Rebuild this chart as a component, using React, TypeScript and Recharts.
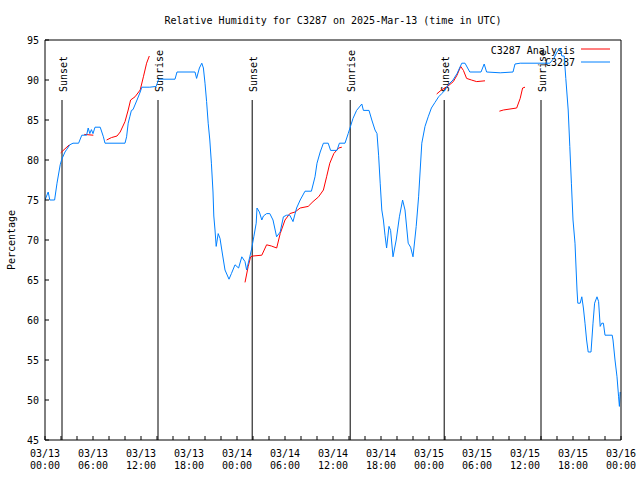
import { LineChart, Line, XAxis, YAxis, ReferenceLine } from 'recharts'

// hours since 2025-03-13 00:00 UTC
const obsHours = [
  0, 0.4, 0.6, 1.2, 1.5, 1.9, 2.1, 2.5, 2.7, 3.1, 3.5, 4.2, 4.6, 5.2, 5.4, 5.6, 5.8, 6.0, 6.25, 6.9,
  7.3, 7.5, 10.0, 10.2, 10.4, 10.6, 10.8, 11.0, 11.5, 11.9, 12.1, 13.1, 13.9, 14.2, 16.25, 16.5, 18.75, 18.95, 19.3, 19.6,
  19.8, 20.0, 20.2, 20.4, 20.6, 20.8, 21.0, 21.1, 21.25, 21.4, 21.65, 21.875, 22.1, 22.3, 22.5, 23.0, 23.3, 23.75, 24.2, 24.6,
  25.0, 25.2, 25.6, 25.8, 26.1, 26.4, 26.5, 26.8, 27.1, 27.3, 27.7, 28.1, 28.5, 28.95, 29.4, 29.8, 30.2, 30.6, 31.0, 31.45,
  31.9, 32.5, 33.3, 33.75, 34.0, 34.4, 34.8, 35.4, 35.7, 36.5, 36.8, 37.5, 37.9, 38.5, 38.95, 39.6, 39.8, 40.5, 40.85, 41.25,
  41.5, 41.7, 41.9, 42.1, 42.3, 42.5, 42.7, 43.0, 43.2, 43.5, 43.9, 44.3, 44.7, 45.0, 45.4, 45.7, 46.0, 46.4, 46.7, 46.9,
  47.1, 47.5, 47.9, 48.3, 48.75, 49.2, 49.6, 50.0, 50.4, 51.0, 51.5, 52.1, 52.5, 53.1, 54.5, 54.9, 55.2, 56.9, 58.5, 58.75,
  59.4, 63.1, 63.6, 64.0, 64.4, 64.6, 64.9, 65.1, 65.4, 65.6, 65.8, 66.0, 66.25, 66.5, 66.6, 66.9, 67.1, 67.3, 67.5, 67.7,
  67.9, 68.25, 68.5, 68.7, 69.0, 69.2, 69.4, 69.6, 69.8, 70.0, 70.9, 71.0, 71.25, 71.5, 71.7, 71.8, 71.9,
]
const obsValues = [
  75, 76, 75, 75, 77.1, 79.4, 80.1, 81, 81.3, 81.9, 82.1, 82.1, 83.1, 83.1, 84, 83.3, 83.8, 83.3, 84.1, 84.1,
  82.9, 82.1, 82.1, 82.9, 84.6, 85.4, 86.2, 86.3, 87.5, 88.5, 89.1, 89.1, 89.2, 90.1, 90.1, 91, 91, 90.2, 91.5, 92.1,
  91.5, 89.6, 87.3, 84.6, 82.5, 79.6, 76, 73, 71.25, 69.2, 70.8, 70.2, 68.75, 67.5, 66.25, 65.1, 65.8, 66.9, 66.5, 67.9,
  67.3, 66.25, 67.9, 68.75, 70.4, 72.1, 74.0, 73.5, 72.5, 73.0, 73.3, 73.3, 72.5, 70.4, 71.0, 72.9, 73.1, 73.1, 72.3, 74.0,
  75, 76.1, 76.1, 77.9, 79.6, 81.0, 82.1, 82.1, 81.2, 81.2, 82.1, 82.1, 83.3, 85.2, 86.2, 87.0, 86.2, 86.2, 85, 83.75,
  83.3, 80.6, 77.1, 73.75, 72.5, 70.6, 69.0, 71.7, 71.2, 67.9, 70, 72.9, 75, 73.75, 69.6, 69.1, 67.9, 71.7, 75.4, 78.75,
  82.1, 84.2, 85.4, 86.5, 87.2, 87.9, 88.3, 88.75, 89.4, 90, 90.8, 92.1, 92.1, 91.0, 91.0, 92, 91, 90.9, 91, 92,
  92.1, 92.1, 92.7, 93.5, 94.0, 93, 93, 90.2, 86.25, 81.7, 77.1, 72.5, 69.6, 63.75, 62.1, 62.1, 62.9, 61.5, 59.6, 57.5,
  56, 56, 59.6, 62.1, 62.9, 62.3, 59.2, 59.6, 59.6, 58.1, 58.1, 57.5, 55, 52.9, 50.4, 49.2, 51,
]

// analysis series, null = no data
const anaHours = [
  1.96, 3.04, 3.5, 4.9, 6.04, 6.5, 7.7, 8.3, 9.0, 9.4, 10.0, 10.4, 10.7, 11.25, 11.9, 12.3, 12.7, 13.04, 14,
  25.0, 25.4, 25.7, 26.0, 27.1, 27.7, 28.3, 28.96, 29.4, 30.0, 30.6, 31.25, 31.9, 32.9, 33.5, 34.2, 34.8, 35.2, 35.6, 36.1,
  36.7, 37.1, 38,
  48.96, 49.6, 50.2, 51.04, 51.5, 51.96, 52.3, 52.7, 53.3, 53.96, 55.0, 55.5,
  56.8, 57.3, 58.96, 59.4, 59.7, 60.0,
]
const anaValues = [
  80.9, 81.9, null, 83.2, 83.1, null, 82.5, 82.8, 83, 83.5, 84.8, 86.25, 87.5, 87.9, 88.75, 90.4, 92.1, 93, null,
  64.7, 66.7, 67.9, 68, 68.1, 69.4, 69.25, 69.0, 70.8, 72.5, 73.3, 73.5, 74.0, 74.2, 74.8, 75.4, 76.25, 77.9, 79.6, 80.8,
  81.5, 81.6, null,
  88.25, 88.8, 89.1, 89.8, 90.6, 91.7, 91.2, 90.2, 90, 89.8, 89.9, null,
  86.1, 86.25, 86.5, 87.7, 89, 89.1,
]

const sunEvents = ['Sunset', 'Sunrise', 'Sunset', 'Sunrise', 'Sunset', 'Sunrise']
const sunHours = [2.125, 14.125, 25.9, 38.15, 49.9, 62.0]
const sunLineTop = 87.5

const xTicks = Array.from({ length: 37 }, (_, i) => i * 2)
const yTicks = [45, 50, 55, 60, 65, 70, 75, 80, 85, 90, 95]
const dayLabels = ['03/13', '03/14', '03/15', '03/16']
const seriesNames = ['C3287 Analysis', 'C3287']

const obsData = obsHours.map((h, i) => ({ h, v: obsValues[i] }))
const anaData = anaHours.map((h, i) => ({ h, v: anaValues[i] }))

const FONT = '"DejaVu Sans Mono", monospace'
const RED = '#ff0000'
const BLUE = '#0080ff'

const BottomTick = ({ x, y, payload }: any) => {
  const h = payload.value
  const major = h % 6 === 0
  const hh = String(h % 24).padStart(2, '0')
  return (
    <g>
      <line x1={x} y1={y} x2={x} y2={y - 4} stroke="#000" />
      {major && (
        <text x={x} y={y + 17} textAnchor="middle" fontFamily={FONT} fontSize={10} fill="#000">
          <tspan x={x}>{dayLabels[Math.floor(h / 24)]}</tspan>
          <tspan x={x} dy={12}>{hh}:00</tspan>
        </text>
      )}
    </g>
  )
}

const TopTick = ({ x, y }: any) => <line x1={x} y1={y} x2={x} y2={y + 4} stroke="#000" />

const LeftTick = ({ x, y, payload }: any) => (
  <g>
    <line x1={x} y1={y} x2={x + 4} y2={y} stroke="#000" />
    <text x={x - 6} y={y} dy={3.5} textAnchor="end" fontFamily={FONT} fontSize={10} fill="#000">
      {payload.value}
    </text>
  </g>
)

const RightTick = ({ x, y }: any) => <line x1={x} y1={y} x2={x - 4} y2={y} stroke="#000" />

const SunMarker = (label: string) => (props: any) => {
  const { x1, y1, x2, y2 } = props
  return (
    <g>
      <line x1={x1} y1={y1} x2={x2} y2={y2} stroke="#000" strokeWidth={1} />
      <text
        x={x1 + 1}
        y={y1 - 8}
        transform={`rotate(-90 ${x1 + 1} ${y1 - 8})`}
        dominantBaseline="central"
        fontFamily={FONT}
        fontSize={10}
        fill="#000"
      >
        {label}
      </text>
    </g>
  )
}

export default function App() {
  return (
    <div style={{ position: 'absolute', left: 0, top: 0, width: 640, height: 480, background: '#fff' }}>
      <LineChart width={640} height={480} margin={{ top: 39, right: 18, bottom: 39, left: 44 }}>
        <text x={333} y={20} textAnchor="middle" dominantBaseline="central" fontFamily={FONT} fontSize={10} fill="#000">
          Relative Humidity for C3287 on 2025-Mar-13 (time in UTC)
        </text>
        <text
          x={11}
          y={240}
          transform="rotate(-90 11 240)"
          textAnchor="middle"
          dominantBaseline="central"
          fontFamily={FONT}
          fontSize={10}
          fill="#000"
        >
          Percentage
        </text>
        <XAxis
          xAxisId="b"
          dataKey="h"
          type="number"
          domain={[0, 72]}
          ticks={xTicks}
          interval={0}
          height={1}
          tickSize={0}
          tickMargin={0}
          tickLine={false}
          tick={BottomTick}
          axisLine={{ stroke: '#000' }}
          allowDataOverflow
        />
        <XAxis
          xAxisId="t"
          orientation="top"
          dataKey="h"
          type="number"
          domain={[0, 72]}
          ticks={xTicks}
          interval={0}
          height={1}
          tickSize={0}
          tickMargin={0}
          tickLine={false}
          tick={TopTick}
          axisLine={{ stroke: '#000' }}
        />
        <YAxis
          yAxisId="l"
          type="number"
          domain={[45, 95]}
          ticks={yTicks}
          interval={0}
          width={1}
          tickSize={0}
          tickMargin={0}
          tickLine={false}
          tick={LeftTick}
          axisLine={{ stroke: '#000' }}
          allowDataOverflow
        />
        <YAxis
          yAxisId="r"
          orientation="right"
          type="number"
          domain={[45, 95]}
          ticks={yTicks}
          interval={0}
          width={1}
          tickSize={0}
          tickMargin={0}
          tickLine={false}
          tick={RightTick}
          axisLine={{ stroke: '#000' }}
        />
        {sunHours.map((h, i) => (
          <ReferenceLine
            key={i}
            xAxisId="b"
            yAxisId="l"
            segment={[
              { x: h, y: sunLineTop },
              { x: h, y: 45 },
            ]}
            shape={SunMarker(sunEvents[i])}
            ifOverflow="visible"
          />
        ))}
        <Line
          xAxisId="b"
          yAxisId="l"
          name={seriesNames[0]}
          data={anaData}
          dataKey="v"
          stroke={RED}
          strokeWidth={1}
          dot={false}
          connectNulls={false}
          isAnimationActive={false}
        />
        <Line
          xAxisId="b"
          yAxisId="l"
          name={seriesNames[1]}
          data={obsData}
          dataKey="v"
          stroke={BLUE}
          strokeWidth={1}
          dot={false}
          isAnimationActive={false}
        />
        {/* key, gnuplot style: top right inside the frame */}
        <g fontFamily={FONT} fontSize={10} fill="#000">
          <text x={575} y={50} textAnchor="end" dominantBaseline="central">{seriesNames[0]}</text>
          <line x1={581} y1={49} x2={610} y2={49} stroke={RED} />
          <text x={575} y={62} textAnchor="end" dominantBaseline="central">{seriesNames[1]}</text>
          <line x1={581} y1={62} x2={610} y2={62} stroke={BLUE} />
        </g>
      </LineChart>
    </div>
  )
}
